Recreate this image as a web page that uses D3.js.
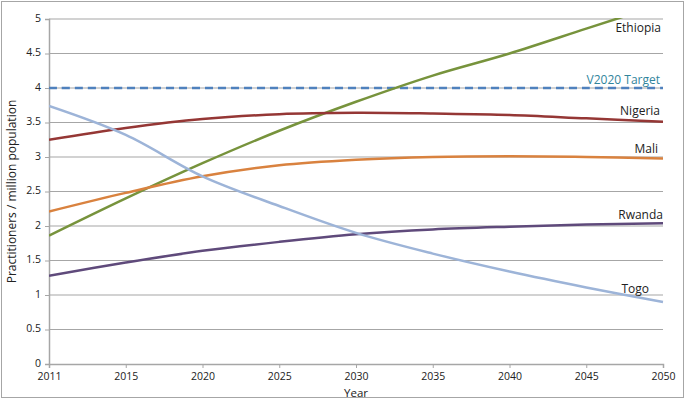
<!DOCTYPE html>
<html>
<head>
<meta charset="utf-8">
<script src="https://cdn.jsdelivr.net/npm/d3@7"></script>
<style>
  body { margin: 0; background: #fff; }
  text { font-family: "Open Sans", "DejaVu Sans", sans-serif; }
</style>
</head>
<body>
<svg id="chart" width="685" height="400"></svg>
<script>
// categories (Excel category axis, evenly spaced)
var years = ["2011", "2015", "2020", "2025", "2030", "2035", "2040", "2045", "2050"];
var yTicks = [0, 0.5, 1, 1.5, 2, 2.5, 3, 3.5, 4, 4.5, 5];

// series values
var ethiopia = [1.86, 2.40, 2.91, 3.38, 3.80, 4.18, 4.50, 4.86, 5.22];
var nigeria  = [3.25, 3.42, 3.55, 3.62, 3.64, 3.63, 3.61, 3.56, 3.51];
var mali     = [2.21, 2.48, 2.72, 2.88, 2.96, 3.00, 3.01, 3.00, 2.98];
var rwanda   = [1.28, 1.47, 1.64, 1.77, 1.88, 1.95, 1.99, 2.02, 2.04];
var togo     = [3.74, 3.32, 2.72, 2.29, 1.90, 1.60, 1.34, 1.11, 0.90];
var target   = [4, 4, 4, 4, 4, 4, 4, 4, 4];

var series = [
    {name: "Ethiopia", values: ethiopia, color: "#77933c"},
    {name: "Nigeria", values: nigeria, color: "#953735"},
    {name: "Mali", values: mali, color: "#d9823f"},
    {name: "Rwanda", values: rwanda, color: "#5f4a7b"},
    {name: "Togo", values: togo, color: "#9db4d8"}
];

var margin = {left: 49, right: 22, top: 19, bottom: 36};
var width = 685 - margin.left - margin.right;
var height = 400 - margin.top - margin.bottom;

var svg = d3.select("#chart");

// outer frame
svg.append("rect")
    .attr("x", 1.5).attr("y", 1.5)
    .attr("width", 682).attr("height", 396)
    .attr("fill", "none")
    .attr("stroke", "#a6a6a6")
    .attr("stroke-width", 1);

var g = svg.append("g")
    .attr("transform", "translate(" + margin.left + "," + margin.top + ")");

var x = d3.scalePoint().domain(years).range([0, width]);
var y = d3.scaleLinear().domain([0, 5]).range([height, 0]);

// gridlines
g.selectAll(".grid").data(yTicks.slice(1)).enter().append("line")
    .attr("x1", 0).attr("x2", width)
    .attr("y1", d => y(d)).attr("y2", d => y(d))
    .attr("stroke", "#a6a6a6").attr("stroke-width", 1.2);

// y axis
var yAxis = g.append("g")
    .call(d3.axisLeft(y).tickValues(yTicks).tickSize(4).tickFormat(d3.format("")));
yAxis.select(".domain").attr("stroke", "#a6a6a6").attr("stroke-width", 1.5);
yAxis.selectAll(".tick line").attr("stroke", "#a6a6a6");
yAxis.selectAll("text").attr("font-size", 10.5).attr("fill", "#222").attr("x", -8).attr("dy", "0.2em");

// x axis
var xAxis = g.append("g")
    .attr("transform", "translate(0," + height + ")")
    .call(d3.axisBottom(x).tickSize(4));
xAxis.select(".domain").attr("stroke", "#a6a6a6").attr("stroke-width", 1.5);
xAxis.selectAll(".tick line").attr("stroke", "#a6a6a6");
xAxis.selectAll("text").attr("font-size", 10.5).attr("fill", "#222").attr("y", 9).attr("dy", "0.71em");

// axis titles
svg.append("text")
    .attr("x", margin.left + width / 2).attr("y", 397)
    .attr("text-anchor", "middle").attr("font-size", 11.5).attr("fill", "#222")
    .text("Year");
svg.append("text")
    .attr("transform", "translate(16," + (margin.top + height / 2) + ") rotate(-90)")
    .attr("text-anchor", "middle").attr("font-size", 12).attr("fill", "#222")
    .text("Practitioners / million population");

// clip to plot area
svg.append("clipPath").attr("id", "plot-clip")
    .append("rect").attr("x", 0).attr("y", -1).attr("width", width + 2).attr("height", height + 2);

var line = d3.line()
    .x((d, i) => x(years[i]))
    .y(d => y(d))
    .curve(d3.curveCatmullRom.alpha(0.5));

var plot = g.append("g").attr("clip-path", "url(#plot-clip)");

// target line
plot.append("path")
    .datum(target)
    .attr("d", line)
    .attr("fill", "none")
    .attr("stroke", "#4f81bd")
    .attr("stroke-width", 2.5)
    .attr("stroke-dasharray", "8,5");

plot.selectAll(".series").data(series).enter().append("path")
    .attr("d", d => line(d.values))
    .attr("fill", "none")
    .attr("stroke", d => d.color)
    .attr("stroke-width", 2.5);

// labels
var labels = [
    {text: "Ethiopia", x: 661, y: 32, color: "#222"},
    {text: "V2020 Target", x: 660, y: 84, color: "#31859c"},
    {text: "Nigeria", x: 660, y: 115, color: "#222"},
    {text: "Mali", x: 658, y: 153, color: "#222"},
    {text: "Rwanda", x: 663, y: 219, color: "#222"},
    {text: "Togo", x: 649, y: 293, color: "#222"}
];
svg.selectAll(".lbl").data(labels).enter().append("text")
    .attr("x", d => d.x).attr("y", d => d.y)
    .attr("text-anchor", "end")
    .attr("font-size", 12)
    .attr("fill", d => d.color)
    .text(d => d.text);
</script>
</body>
</html>
